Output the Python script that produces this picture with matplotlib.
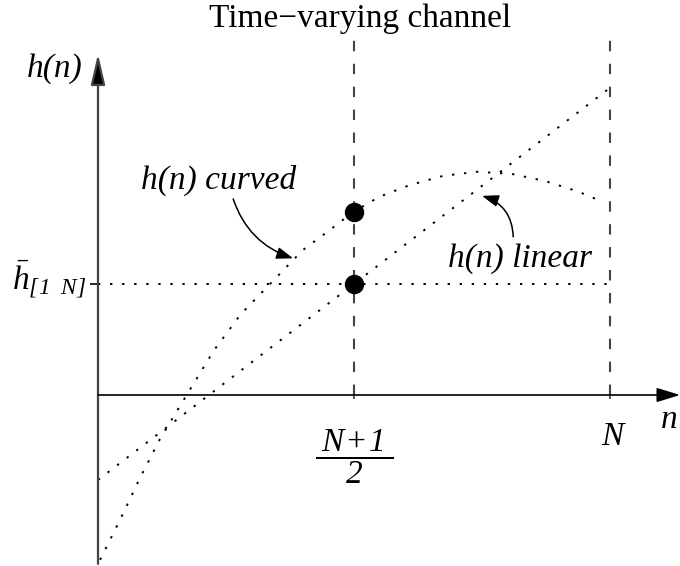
import matplotlib
matplotlib.use('Agg')
import matplotlib.pyplot as plt

plt.rcParams['font.family'] = ['Liberation Serif', 'DejaVu Serif']
# all formula text in italic Times-like font, as in the reference
plt.rcParams['mathtext.fontset'] = 'custom'
plt.rcParams['mathtext.rm'] = 'Liberation Serif:italic'
plt.rcParams['mathtext.it'] = 'Liberation Serif:italic'
plt.rcParams['mathtext.bf'] = 'Liberation Serif:bold'

# ----- data (arbitrary units, N = 10) -----
N = 10
n_mid = 5
n_curve = [0.04, 0.43, 0.82, 1.21, 1.78, 2.27, 2.79, 3.40, 4.00, 4.55, 4.98,
           5.49, 6.09, 6.74, 7.40, 8.07, 8.73, 9.36, 9.77]
h_curve = [-3.22, -2.44, -1.62, -0.86, 0.08, 0.88, 1.58, 2.21, 2.83, 3.24, 3.57,
           3.87, 4.10, 4.28, 4.36, 4.32, 4.18, 3.98, 3.81]
n_linear = [0, N]
h_linear = [-1.66, 6.00]
h_mean = 2.17
h_curve_mid = 3.57
tick_n = [n_mid, N]

FS = 24
grey = '#444444'
dots = (0, (1.2, 5.0))

fig = plt.figure(figsize=(6.8, 5.66), dpi=100)
ax = fig.add_axes([0, 0, 1, 1])
ax.set_xlim(-1.914, 11.367)
ax.set_ylim(-3.340, 7.715)
ax.axis('off')

# axes with arrows
ax.annotate('', xy=(0, 6.66), xytext=(0, -3.30),
            arrowprops=dict(arrowstyle='-|>,head_length=0.94,head_width=0.22',
                            mutation_scale=20, lw=1.6, fc='black', ec=grey,
                            shrinkA=0, shrinkB=0))
ax.annotate('', xy=(11.37, 0), xytext=(0, 0),
            arrowprops=dict(arrowstyle='-|>,head_length=0.72,head_width=0.22',
                            mutation_scale=20, lw=1.2, color='black',
                            shrinkA=0, shrinkB=0))

# dashed verticals and ticks
ax.vlines(tick_n, 0, 6.93, colors=grey, lw=1.5, linestyles=[(0, (5, 6))])
ax.vlines(tick_n, -0.08, 0.12, colors=grey, lw=1.2)
ax.hlines(h_mean, -0.16, 0, colors='black', lw=1.2)

# mean level, curved and linear channel
ax.plot([0, N], [h_mean, h_mean], color='black', lw=1.4, ls=dots)
ax.plot(n_curve, h_curve, color='black', lw=1.4, ls=dots)
ax.plot(n_linear, h_linear, color='black', lw=1.4, ls=dots)

# dots at the midpoint
ax.plot([n_mid, n_mid], [h_curve_mid, h_mean], 'o', color='black', ms=13)

# texts
ax.text(5.12, 7.19, 'Time\u2212varying channel', fontsize=FS, ha='center', va='baseline')
ax.text(-0.31, 6.21, 'h(n)', fontsize=FS, style='italic', ha='right', va='baseline')
ax.text(2.35, 4.02, 'h(n) curved', fontsize=FS, style='italic', ha='center', va='baseline')
ax.text(8.25, 2.50, 'h(n) linear', fontsize=FS, style='italic', ha='center', va='baseline')
ax.text(-1.68, 2.05, r'$\bar{h}_{[1\ \ N]}$', fontsize=FS, ha='left', va='baseline')
ax.text(n_mid, -1.20, r'$\dfrac{\;N\!+\!1\;}{2}$', fontsize=FS, ha='center', va='center')
ax.text(10.04, -0.98, 'N', fontsize=FS, style='italic', ha='center', va='baseline')
ax.text(11.15, -0.64, 'n', fontsize=FS, style='italic', ha='center', va='baseline')

# annotation arrows
ax.annotate('', xy=(3.81, 2.67), xytext=(2.64, 3.83),
            arrowprops=dict(arrowstyle='-|>,head_length=0.5,head_width=0.18',
                            mutation_scale=20, lw=1.1, color='black',
                            connectionstyle='arc3,rad=0.25', shrinkA=0, shrinkB=0))
ax.annotate('', xy=(7.50, 3.89), xytext=(8.11, 3.09),
            arrowprops=dict(arrowstyle='-|>,head_length=0.5,head_width=0.18',
                            mutation_scale=20, lw=1.1, color='black',
                            connectionstyle='arc3,rad=0.35', shrinkA=0, shrinkB=0))

fig.savefig('out.png', dpi=100)
